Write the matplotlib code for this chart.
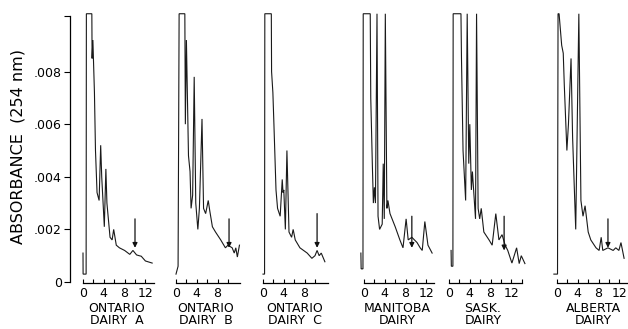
import matplotlib
matplotlib.use("Agg")
import matplotlib.pyplot as plt

# retention time (min) and absorbance
t_ont_a = [0.0, 0.02, 0.6, 0.65, 1.7, 1.75, 1.9, 2.2, 2.4, 2.7, 3.1, 3.4, 3.6, 4.1, 4.4, 4.6,
           5.2, 5.6, 5.9, 6.4, 7.0, 8.0, 9.0, 9.6, 10.3, 10.8, 11.2, 12.0, 13.3]
a_ont_a = [0.0011, 0.0003, 0.0003, 0.0102, 0.0102, 0.0085, 0.0092, 0.0072, 0.0050, 0.0034,
           0.0031, 0.0052, 0.0040, 0.0021, 0.0043, 0.0030, 0.0017, 0.0016, 0.0020, 0.0014,
           0.0013, 0.0012, 0.00105, 0.0012, 0.00103, 0.0010, 0.00098, 0.0008, 0.00072]

t_ont_b = [0.0, 0.4, 0.6, 1.7, 1.8, 2.0, 2.4, 2.7, 2.9, 3.2, 3.5, 3.8, 4.2, 4.5, 5.0, 5.3,
           5.7, 6.2, 6.5, 7.0, 7.6, 8.6, 9.5, 10.0, 10.8, 11.2, 11.5, 11.8, 12.2]
a_ont_b = [0.0003, 0.0006, 0.0102, 0.0102, 0.0060, 0.0092, 0.0048, 0.0042, 0.0028, 0.0033,
           0.0078, 0.0030, 0.0020, 0.0028, 0.0062, 0.0028, 0.0026, 0.0031, 0.0027, 0.0021,
           0.0019, 0.0016, 0.0013, 0.0014, 0.0013, 0.0011, 0.0013, 0.00095, 0.0014]

t_ont_c = [0.0, 0.3, 0.35, 1.6, 1.65, 1.9, 2.1, 2.5, 2.8, 3.3, 3.7, 3.85, 4.0, 4.3, 4.6, 5.0,
           5.5, 5.8, 6.2, 7.1, 8.5, 9.4, 10.0, 10.4, 10.8, 11.2, 11.9]
a_ont_c = [0.0003, 0.0003, 0.0102, 0.0102, 0.0080, 0.0072, 0.0060, 0.0035, 0.0028, 0.0025,
           0.0039, 0.0034, 0.0035, 0.0020, 0.0050, 0.0019, 0.0017, 0.0020, 0.0016, 0.0013,
           0.0011, 0.0009, 0.0010, 0.0012, 0.0010, 0.0011, 0.00077]

t_man = [-0.6, -0.55, -0.2, -0.15, 1.2, 1.3, 1.6, 1.8, 2.0, 2.2, 2.5, 2.7, 3.0, 3.5, 3.7,
         3.9, 4.1, 4.4, 4.6, 5.0, 6.0, 6.9, 7.5, 8.1, 8.5, 9.2, 10.2, 10.8, 11.2, 11.7,
         12.3, 13.1]
a_man = [0.0011, 0.0005, 0.0005, 0.0102, 0.0102, 0.0070, 0.0045, 0.0030, 0.0036, 0.0030,
         0.0102, 0.0025, 0.0020, 0.0022, 0.0045, 0.0024, 0.0102, 0.0028, 0.0031, 0.0026,
         0.0021, 0.0016, 0.0013, 0.0024, 0.0016, 0.0017, 0.0015, 0.0013, 0.0012, 0.0023,
         0.0014, 0.0011]

t_sask = [0.4, 0.45, 0.75, 0.8, 2.3, 2.4, 2.7, 3.2, 3.5, 3.8, 4.0, 4.3, 4.5, 4.9, 5.1, 5.3,
          5.6, 5.9, 6.2, 6.7, 7.7, 8.3, 9.0, 9.6, 10.2, 10.8, 11.3, 12.1, 13.0, 13.5, 13.9,
          14.6]
a_sask = [0.0012, 0.0006, 0.0006, 0.0102, 0.0102, 0.0085, 0.0050, 0.0031, 0.0102, 0.0045,
          0.0060, 0.0035, 0.0042, 0.0030, 0.0024, 0.0102, 0.0028, 0.0024, 0.0028, 0.0019,
          0.0016, 0.0014, 0.0026, 0.0016, 0.0018, 0.0014, 0.0012, 0.00072, 0.0013, 0.0007,
          0.0010, 0.0007]

t_alb = [-0.6, 0.1, 0.2, 0.4, 0.9, 1.2, 1.4, 1.9, 2.2, 2.7, 3.0, 3.6, 4.2, 4.6, 5.0, 5.4,
         6.0, 6.5, 7.5, 8.1, 8.5, 8.8, 9.8, 10.8, 11.3, 11.9, 12.3, 12.9]
a_alb = [0.0003, 0.0003, 0.0102, 0.0102, 0.0090, 0.0087, 0.0075, 0.0050, 0.0060, 0.0085,
         0.0055, 0.0020, 0.0102, 0.0031, 0.0025, 0.0029, 0.0019, 0.0016, 0.0013, 0.0012,
         0.0017, 0.0012, 0.0013, 0.0012, 0.0013, 0.0012, 0.0015, 0.0009]

names = ["ONTARIO\nDAIRY  A", "ONTARIO\nDAIRY  B", "ONTARIO\nDAIRY  C",
         "MANITOBA\nDAIRY", "SASK.\nDAIRY", "ALBERTA\nDAIRY"]
traces = [(t_ont_a, a_ont_a), (t_ont_b, a_ont_b), (t_ont_c, a_ont_c),
          (t_man, a_man), (t_sask, a_sask), (t_alb, a_alb)]
# arrow marks: time, top, tip
arrows = [(10.0, 0.0024, 0.0013), (10.2, 0.0024, 0.0013), (10.4, 0.0026, 0.0013),
          (9.2, 0.0025, 0.0013), (10.6, 0.0025, 0.0012), (9.8, 0.0024, 0.0013)]
xlabels = [[0, 4, 8, 12], [0, 4, 8], [0, 4, 8], [0, 4, 8, 12], [0, 4, 8, 12], [0, 4, 8, 12]]
axis_end = [13.7, 12.3, 12.5, 13.5, 14.0, 13.5]

W, H = 628, 329
x0_px = [83, 176, 263, 364, 449, 557]   # pixel where t = 0
title_px = [117, 206, 295, 397, 483, 593]
px_per_min = 5.2
px_per_abs = 26300.0
y0_px = 282
xmin, xmax = -1.0, 15.5
ymin, ymax = -0.00005, 0.0104

fig = plt.figure(figsize=(W / 100, H / 100), dpi=100)
fig.patch.set_facecolor("white")

for i in range(6):
    left = (x0_px[i] + xmin * px_per_min) / W
    width = (xmax - xmin) * px_per_min / W
    bottom = (H - (y0_px - ymin * px_per_abs)) / H
    height = (ymax - ymin) * px_per_abs / H
    ax = fig.add_axes([left, bottom, width, height])
    ax.patch.set_alpha(0)
    t, a = traces[i]
    ax.plot(t, a, color="#1a1a1a", lw=0.8, solid_joinstyle="miter")
    ta, ytop, ytip = arrows[i]
    ax.annotate("", xy=(ta, ytip), xytext=(ta, ytop),
                arrowprops=dict(arrowstyle="-|>", color="#111111", lw=0.9,
                                mutation_scale=7, shrinkA=0, shrinkB=0))
    ax.set_xlim(xmin, xmax)
    ax.set_ylim(ymin, ymax)
    for s in ["top", "right"]:
        ax.spines[s].set_visible(False)
    ax.spines["bottom"].set_bounds(0, axis_end[i])
    ax.spines["bottom"].set_linewidth(0.9)
    ax.set_xticks(xlabels[i])
    ax.set_xticklabels([str(v) for v in xlabels[i]], fontsize=9)
    ax.set_xticks([v for v in range(2, int(axis_end[i]) + 1, 2) if v % 4], minor=True)
    ax.tick_params(axis="x", which="both", direction="in", length=3, width=0.8, pad=3)
    if i == 0:
        ax.spines["left"].set_position(("data", -2.5))
        ax.spines["left"].set_bounds(0, 0.0101)
        ax.spines["left"].set_linewidth(0.9)
        ax.set_yticks([0, 0.002, 0.004, 0.006, 0.008, 0.0101])
        ax.set_yticklabels(["0", ".002", ".004", ".006", ".008", ""], fontsize=9)
        ax.tick_params(axis="y", direction="out", length=4, width=0.8, pad=2)
    else:
        ax.spines["left"].set_visible(False)
        ax.set_yticks([])
    fig.text(title_px[i] / W, 1 - 302 / H, names[i], ha="center", va="top",
             fontsize=9, linespacing=0.92, multialignment="center")

fig.text(18 / W, 1 - 147 / H, "ABSORBANCE  (254 nm)", rotation=90, ha="center",
         va="center", fontsize=11.5)

fig.savefig("out.png", dpi=100, facecolor="white")
